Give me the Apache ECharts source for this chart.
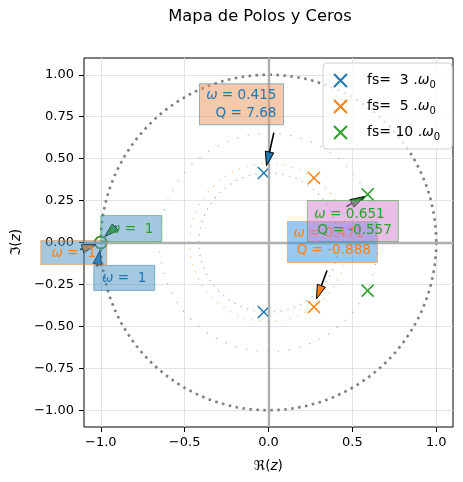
<!DOCTYPE html>
<html><head><meta charset="utf-8">
<script src="https://cdn.jsdelivr.net/npm/echarts@6/dist/echarts.min.js"></script>
<style>html,body{margin:0;padding:0;background:#fff}#c{width:463px;height:482px}</style>
</head><body><div id="c"></div>
<script>
// ---------- data ----------
const fsValues = [3, 5, 10];
const poleRe = [-0.028, 0.271, 0.591];
const poleIm = [0.414, 0.385, 0.287];
const poleOmega = [0.415, 0.471, 0.651];
const poleQ = [7.68, -0.888, -0.557];
const zeroRe = [-1, -1, -1];
const zeroIm = [0, 0, 0];
const zeroOmega = [1, 1, 1];
const unitRadius = 1;
const xTicks = [-1, -0.5, 0, 0.5, 1];
const yTicks = [-1, -0.75, -0.5, -0.25, 0, 0.25, 0.5, 0.75, 1];

// ---------- styles / layout ----------
const colors = ['#1f77b4', '#ff7f0e', '#2ca02c'];
const FONT = 'DejaVu Sans';
const XSYM = 'path://M0 0L10 10M10 0L0 10';
const legendNames = fsValues.map(v => 'fs= ' + String(v).padStart(2, ' ') + ' .');

// annotation layout (data coordinates for anchors, pixel sizes for boxes)
const annots = [
  {kind: 'pole', s: 0, box: [-0.161, 0.824], w: 84, h: 41, tail: [0.032, 0.655], tip: [-0.012, 0.458],
   fill: 'rgba(235,150,90,0.5)', align: 'right', tx: [35, 35], ty: [-8.5, 9]},
  {kind: 'zero', s: 0, box: [-0.86, -0.211], w: 61, h: 25, tail: [-1.023, -0.143], tip: [-1.005, -0.048],
   fill: 'rgba(76,145,195,0.5)'},
  {kind: 'pole', s: 1, box: [0.381, 0.003], w: 90, h: 41, tail: [0.349, -0.167], tip: [0.286, -0.336],
   fill: 'rgba(51,145,230,0.5)', align: 'left', tx: [-39, -36], ty: [-9, 8]},
  {kind: 'zero', s: 1, box: [-1.161, -0.06], w: 66, h: 24, tail: [-1.124, -0.042], tip: [-1.029, -0.012],
   fill: 'rgba(76,145,195,0.5)'},
  {kind: 'pole', s: 2, box: [0.503, 0.128], w: 91, h: 41, tail: [0.464, 0.214], tip: [0.571, 0.274],
   fill: 'rgba(209,125,209,0.5)', align: 'left', tx: [-38.5, -35.5], ty: [-7, 9]},
  {kind: 'zero', s: 2, box: [-0.818, 0.083], w: 61, h: 26, tail: [-0.905, 0.1], tip: [-0.976, 0.036],
   fill: 'rgba(76,145,195,0.5)'}
];

function hexA(hex, a) {
  const n = parseInt(hex.slice(1), 16);
  return 'rgba(' + (n >> 16) + ',' + ((n >> 8) & 255) + ',' + (n & 255) + ',' + a + ')';
}
function fmtY(v) { return (v < 0 ? '\u2212' : '') + Math.abs(v).toFixed(2); }
function fmtX(v) { return (v < 0 ? '\u2212' : '') + Math.abs(v).toFixed(1); }

const chart = echarts.init(document.getElementById('c'));

const ringData = [[0, 0, unitRadius]].concat(poleOmega.map(w => [0, 0, w]));

const series = [];
series.push({
  type: 'custom', coordinateSystem: 'cartesian2d', silent: true, z: 2, clip: false,
  data: ringData,
  renderItem: function (params, api) {
    const i = params.dataIndex;
    const c = api.coord([api.value(0), api.value(1)]);
    const r = api.size([api.value(2), 0])[0];
    if (i === 0) {
      return {type: 'circle', shape: {cx: c[0], cy: c[1], r: r},
        style: {fill: 'none', stroke: '#7f7f7f', lineWidth: 2.6, lineDash: [2.6, 4.4]}};
    }
    const per = 2 * Math.PI * r / 64;
    return {type: 'circle', shape: {cx: c[0], cy: c[1], r: r},
      style: {fill: 'none', stroke: colors[i - 1], lineWidth: 1.1, lineDash: [1.1, per - 1.1], opacity: 0.6}};
  },
  markLine: {
    silent: true, symbol: 'none', label: {show: false}, animation: false,
    lineStyle: {color: '#b0b0b0', width: 2.4, type: 'solid'},
    data: [{yAxis: 0}, {xAxis: 0}]
  }
});

fsValues.forEach((fs, i) => {
  series.push({
    name: legendNames[i], type: 'scatter', symbol: XSYM, symbolSize: 12, z: 4, silent: true,
    itemStyle: {color: colors[i], borderColor: colors[i], borderWidth: 1.5, opacity: 1},
    data: [[poleRe[i], poleIm[i]], [poleRe[i], -poleIm[i]]]
  });
  series.push({
    name: 'zeros' + i, type: 'scatter', symbol: 'circle', symbolSize: 12, z: 4, silent: true,
    itemStyle: {color: 'none', borderColor: colors[i], borderWidth: 1.5, opacity: 1},
    data: [[zeroRe[i], zeroIm[i]]]
  });
});

const richBase = {
  w: {fontStyle: 'italic', fontSize: 13.6, fontFamily: FONT}
};

series.push({
  type: 'custom', coordinateSystem: 'cartesian2d', silent: true, z: 5, clip: false,
  data: annots.map(a => [a.tip[0], a.tip[1]]),
  renderItem: function (params, api) {
    const j = params.dataIndex;
    const a = annots[j];
    const col = colors[a.s];
    const tail = api.coord(a.tail), tip = api.coord(a.tip), ctr = api.coord(a.box);
    const dx = tip[0] - tail[0], dy = tip[1] - tail[1];
    const L = Math.hypot(dx, dy), ux = dx / L, uy = dy / L;
    const hl = 14, hw = 4.3;
    const base = [tip[0] - ux * hl, tip[1] - uy * hl];
    const z0 = j * 10;
    const children = [];
    children.push({type: 'line', z2: z0, shape: {x1: tail[0], y1: tail[1], x2: base[0], y2: base[1]},
      style: {stroke: '#000', lineWidth: 1.6}});
    children.push({type: 'polygon', z2: z0 + 1,
      shape: {points: [[tip[0], tip[1]], [base[0] - uy * hw, base[1] + ux * hw], [base[0] + uy * hw, base[1] - ux * hw]]},
      style: {fill: col, stroke: '#000', lineWidth: 1}});
    children.push({type: 'rect', z2: z0 + 2,
      shape: {x: ctr[0] - a.w / 2, y: ctr[1] - a.h / 2, width: a.w, height: a.h},
      style: {fill: a.fill, stroke: hexA(col, 0.5), lineWidth: 1}});
    const tstyle = {fill: col, fontSize: 13.6, fontFamily: FONT, verticalAlign: 'middle', rich: richBase};
    if (a.kind === 'pole') {
      const s = a.s;
      const lines = ['{w|ω} = ' + poleOmega[s], 'Q = ' + poleQ[s]];
      lines.forEach((t, k) => {
        children.push({type: 'text', z2: z0 + 3, x: ctr[0] + a.tx[k], y: ctr[1] + a.ty[k],
          style: Object.assign({}, tstyle, {text: t, align: a.align})});
      });
    } else {
      children.push({type: 'text', z2: z0 + 3, x: ctr[0], y: ctr[1] + 0.5,
        style: Object.assign({}, tstyle, {text: '{w|ω} =  ' + zeroOmega[a.s], align: 'center'})});
    }
    return {type: 'group', children: children};
  }
});

const option = {
  animation: false,
  backgroundColor: '#fff',
  graphic: [{
    type: 'text', x: 260, y: 9, silent: true,
    style: {text: 'Mapa de Polos y Ceros', fontSize: 16.3, fontFamily: FONT, fill: '#000',
      align: 'center', verticalAlign: 'top', textAlign: 'center', textVerticalAlign: 'top'}
  }],
  grid: {left: 84, top: 58, width: 369, height: 369, show: true, borderColor: '#000', borderWidth: 1,
    backgroundColor: 'transparent', containLabel: false, outerBoundsMode: 'none'},
  legend: {
    data: legendNames, left: 323, top: 63, orient: 'vertical',
    padding: [10, 12, 7, 10], itemGap: 9, itemWidth: 13, itemHeight: 14,
    backgroundColor: 'rgba(255,255,255,0.8)', borderColor: '#d0d0d0', borderWidth: 1, borderRadius: 4,
    selectedMode: false,
    textStyle: {fontSize: 14, fontFamily: FONT, color: '#000', padding: [0, 0, 0, 15],
      rich: {w: {fontStyle: 'italic', fontSize: 14, fontFamily: FONT, color: '#000'},
             s: {fontSize: 10, fontFamily: FONT, color: '#000', padding: [9, 0, 0, 0]}}},
    formatter: n => n + '{w|ω}{s|0}'
  },
  xAxis: {
    type: 'value', min: -1.1, max: 1.1, position: 'bottom',
    name: 'ℜ({i|z})', nameLocation: 'middle', nameGap: 32,
    nameTextStyle: {fontSize: 13.6, fontFamily: FONT, color: '#000',
      rich: {i: {fontStyle: 'italic', fontSize: 13.6, fontFamily: FONT, color: '#000'}}},
    axisLine: {show: false, onZero: false},
    axisTick: {show: true, inside: false, length: 5, lineStyle: {color: '#000', width: 1}, customValues: xTicks},
    axisLabel: {show: true, margin: 9, fontSize: 13, fontFamily: FONT, color: '#000', formatter: fmtX, customValues: xTicks},
    splitLine: {show: true, lineStyle: {color: '#e3e3e3', width: 1}, customValues: xTicks}
  },
  yAxis: {
    type: 'value', min: -1.1, max: 1.1, position: 'left',
    name: 'ℑ({i|z})', nameLocation: 'middle', nameGap: 57, nameRotate: 90,
    nameTextStyle: {fontSize: 13.6, fontFamily: FONT, color: '#000',
      rich: {i: {fontStyle: 'italic', fontSize: 13.6, fontFamily: FONT, color: '#000'}}},
    axisLine: {show: false, onZero: false},
    axisTick: {show: true, inside: false, length: 5, lineStyle: {color: '#000', width: 1}, customValues: yTicks},
    axisLabel: {show: true, margin: 10, fontSize: 13, fontFamily: FONT, color: '#000', formatter: fmtY, customValues: yTicks},
    splitLine: {show: true, lineStyle: {color: '#e3e3e3', width: 1}, customValues: yTicks}
  },
  series: series
};
chart.setOption(option);
</script>
</body></html>
